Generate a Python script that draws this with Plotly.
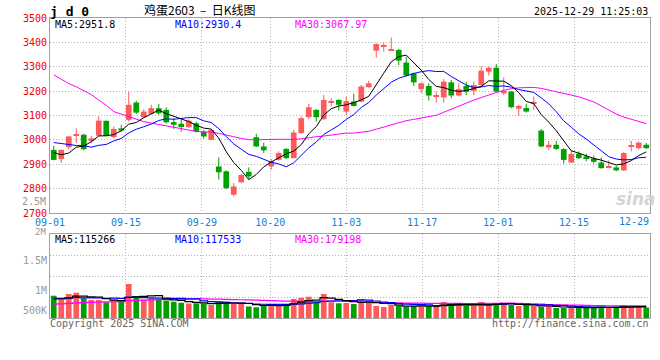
import pandas as pd
import plotly.graph_objects as go

# ---------------- data ----------------
dates = ["09-01","09-02","09-03","09-04","09-05","09-08","09-09","09-10","09-11","09-12",
         "09-15","09-16","09-17","09-18","09-19","09-22","09-23","09-24","09-25","09-26",
         "09-29","09-30","10-09","10-10","10-13","10-14","10-15","10-16","10-17","10-20",
         "10-21","10-22","10-23","10-24","10-27","10-28","10-29","10-30","10-31","11-03",
         "11-04","11-05","11-06","11-07","11-10","11-11","11-12","11-13","11-14","11-17",
         "11-18","11-19","11-20","11-21","11-24","11-25","11-26","11-27","11-28","12-01",
         "12-02","12-03","12-04","12-05","12-08","12-09","12-10","12-11","12-12","12-15",
         "12-16","12-17","12-18","12-19","12-22","12-23","12-24","12-25","12-26","12-29"]

opens = [2959,2921,2970,3017,3021,2998,3017,3078,3011,3047,
         3082,3153,3093,3107,3130,3123,3073,3066,3052,3068,
         3034,3000,2891,2871,2775,2826,2869,3011,2973,2891,
         2918,2963,2925,3028,3093,3123,3085,3154,3164,3116,
         3157,3157,3216,3366,3382,3366,3369,3317,3273,3208,
         3221,3178,3174,3236,3182,3221,3201,3225,3280,3296,
         3191,3198,3128,3131,3150,3038,2969,2980,2962,2907,
         2943,2932,2924,2907,2888,2887,2875,2973,2966,2980]
closes = [2918,2959,3014,3020,2962,3006,3079,3017,3045,3038,
          3144,3112,3116,3130,3109,3072,3062,3053,3079,3034,
          3014,3041,2867,2802,2809,2856,2850,2973,2957,2912,
          2946,2925,3030,3089,3134,3093,3164,3159,3144,3159,
          3139,3219,3232,3393,3386,3371,3325,3264,3236,3232,
          3182,3183,3239,3182,3208,3198,3225,3284,3296,3198,
          3201,3134,3139,3116,3156,2973,2980,2963,2918,2942,
          2925,2924,2910,2884,2892,2875,2946,2977,2989,2966]
highs = [2976,2961,3016,3047,3025,3017,3096,3080,3055,3062,
         3198,3161,3126,3144,3148,3134,3089,3085,3085,3075,
         3041,3045,2928,2875,2823,2860,2887,3025,2989,2921,
         2953,2966,3041,3096,3148,3126,3184,3171,3167,3178,
         3189,3225,3243,3396,3399,3420,3373,3341,3276,3237,
         3232,3198,3250,3246,3232,3239,3239,3303,3300,3311,
         3257,3201,3144,3148,3178,3045,2996,2996,2966,2959,
         2953,2943,2935,2928,2916,2894,2950,2996,2993,2987]
lows = [2916,2905,2962,2987,2957,2987,3015,3015,3007,3034,
        3075,3107,3089,3105,3103,3067,3045,3034,3050,3030,
        3006,2998,2837,2798,2768,2824,2839,2970,2946,2877,
        2915,2922,2925,3025,3085,3075,3082,3139,3120,3101,
        3137,3155,3214,3337,3362,3366,3307,3259,3221,3192,
        3161,3153,3153,3171,3178,3184,3184,3221,3264,3196,
        3184,3130,3098,3112,3123,2970,2959,2959,2902,2905,
        2921,2912,2902,2882,2884,2871,2873,2953,2959,2962]
volumes = [223000,185000,240000,253000,197000,180000,180000,158000,183000,163000,
           340000,210000,183000,207000,180000,175000,163000,153000,145000,147000,
           145000,130000,163000,163000,140000,147000,115000,107000,120000,140000,
           140000,120000,190000,203000,213000,175000,240000,158000,147000,150000,
           140000,187000,168000,120000,110000,130000,120000,113000,120000,120000,
           120000,120000,160000,150000,130000,120000,120000,160000,130000,150000,
           150000,130000,120000,130000,120000,110000,120000,100000,100000,107000,
           105000,105000,105000,108000,105000,105000,130000,115000,115000,105000]

# sessions before 09-01 (not drawn; estimated so the moving averages start where the picture shows)
prior_closes = [3499,3554,3410,3412,3516,3739,3677,3825,3368,3474,
                3442,3356,3310,3289,3222,3242,3203,3289,3184,3104,
                3009,3054,3050,2972,3065,3004,2979,2900,2939]
prior_volumes = [105000,98000,112000,120000,108000,95000,118000,125000,110000,102000,
                 115000,108000,120000,104000,112000,99000,117000,121000,109000,113000,
                 195000,215000,188000,226000,196000,176000,190000,170000,191000]

price_ticks = [2700, 2800, 2900, 3000, 3100, 3200, 3300, 3400, 3500]
date_ticks = ["09-01","09-15","09-29","10-20","11-03","11-17","12-01","12-15","12-29"]
vol_tick_vals = [80000, 277000, 577000]
vol_tick_text = ["500K", "1M", "1.5M"]

title_code = "j d 0"
title_text = "鸡蛋2603 \u00a0–\u00a0 日K线图"
stamp = "2025-12-29 11:25:03"
price_ma_text = ["MA5:2951.8", "MA10:2930.4", "MA30:3067.97"]
vol_ma_text = ["MA5:115266", "MA10:117533", "MA30:179198"]

# ---------------- derived ----------------
n = len(dates)
xs = list(range(n))
np_ = len(prior_closes)
cs = pd.Series(prior_closes + closes)
ma5 = cs.rolling(5).mean().iloc[np_:].tolist()
ma10 = cs.rolling(10).mean().iloc[np_:].tolist()
ma30 = cs.rolling(30).mean().iloc[np_:].tolist()
vs = pd.Series(prior_volumes + volumes)
vma5 = vs.rolling(5).mean().iloc[len(prior_volumes):].tolist()
vma10 = vs.rolling(10).mean().iloc[len(prior_volumes):].tolist()
vma30 = vs.rolling(30).mean().iloc[len(prior_volumes):].tolist()

RED = "#ff5a5a"
GREEN = "#00a000"
up = [c >= o for o, c in zip(opens, closes)]
colors = [RED if u else GREEN for u in up]
MINH = 4
body_base, body_h = [], []
for o, c in zip(opens, closes):
    h = abs(c - o)
    if h < MINH:
        body_base.append((o + c) / 2 - MINH / 2)
        body_h.append(MINH)
    else:
        body_base.append(min(o, c))
        body_h.append(h)

W, H = 660, 360
L, R = 50, 650
MT, MB = 18, 213
VT, VB = 234, 318
MONO = "DejaVu Sans Mono"

fig = go.Figure()

# wicks
for col, flag in ((RED, True), (GREEN, False)):
    wx, wy = [], []
    for i in xs:
        if up[i] == flag:
            wx += [i, i, None]
            wy += [lows[i], highs[i], None]
    fig.add_trace(go.Scatter(x=wx, y=wy, mode="lines", line=dict(color=col, width=1),
                             xaxis="x", yaxis="y", showlegend=False, hoverinfo="skip"))
# bodies
fig.add_trace(go.Bar(x=xs, y=body_h, base=body_base, width=0.76, marker=dict(color=colors, line=dict(width=0)),
                     xaxis="x", yaxis="y", showlegend=False))
# price MAs
for vals, col in ((ma30, "#ff00ff"), (ma10, "#0000ff"), (ma5, "#000000")):
    fig.add_trace(go.Scatter(x=xs, y=vals, mode="lines", line=dict(color=col, width=1),
                             xaxis="x", yaxis="y", showlegend=False))
# volume
fig.add_trace(go.Bar(x=xs, y=volumes, width=0.76, marker=dict(color=colors, line=dict(width=0)),
                     xaxis="x2", yaxis="y2", showlegend=False))
for vals, col in ((vma30, "#ff00ff"), (vma10, "#0000ff"), (vma5, "#000000")):
    fig.add_trace(go.Scatter(x=xs, y=vals, mode="lines", line=dict(color=col, width=1.2, shape="hvh"),
                             xaxis="x2", yaxis="y2", showlegend=False))

# gridline positions: Sina spreads the date grid over n-1 steps
tick_pos = [dates.index(d) * n / (n - 1) - 0.5 for d in date_ticks]
tick_txt = date_ticks[:-1] + [""]

GRID = dict(showgrid=True, gridcolor="#b4b4b4", gridwidth=1, griddash="1px,2px")
BORDER = dict(showline=True, mirror=True, linecolor="#a0a0a0", linewidth=1)

fig.update_layout(
    width=W, height=H, margin=dict(l=0, r=0, t=0, b=0, autoexpand=False),
    paper_bgcolor="white", plot_bgcolor="white", barmode="overlay", hovermode=False,
    xaxis=dict(domain=[L / W, R / W], range=[-0.5, n - 0.5], anchor="y", automargin=False,
               tickmode="array", tickvals=tick_pos, ticktext=tick_txt, ticks="",
               tickfont=dict(family=MONO, size=10, color="#1780d0"), zeroline=False, **GRID, **BORDER),
    yaxis=dict(domain=[1 - MB / H, 1 - MT / H], range=[price_ticks[0], price_ticks[-1]], anchor="x",
               automargin=False, tickmode="array", tickvals=price_ticks, ticks="",
               tickfont=dict(family=MONO, size=10, color="#ee0000"), zeroline=False, **GRID, **BORDER),
    xaxis2=dict(domain=[L / W, R / W], range=[-0.5, n - 0.5], anchor="y2", matches="x", automargin=False,
                tickmode="array", tickvals=tick_pos, showticklabels=False, ticks="",
                zeroline=False, **GRID, **BORDER),
    yaxis2=dict(domain=[1 - VB / H, 1 - VT / H], range=[0, 840000], anchor="x2", automargin=False,
                tickmode="array", tickvals=vol_tick_vals, ticktext=vol_tick_text, ticks="",
                tickfont=dict(family=MONO, size=10, color="#9a9a9a"), showgrid=False, zeroline=False,
                minor=dict(tickmode="array", tickvals=[210000, 420000, 630000], showgrid=True,
                           gridcolor="#b4b4b4", gridwidth=1, griddash="1px,2px", ticks=""),
                **BORDER),
)

def ann(text, px, py, anchor="left", color="black", size=10, family=MONO, bold=False, italic=False):
    t = f"<b>{text}</b>" if bold else text
    if italic:
        t = f"<i>{t}</i>"
    fig.add_annotation(text=t, x=px / W, y=1 - py / H, xref="paper", yref="paper",
                       xanchor=anchor, yanchor="middle", showarrow=False,
                       font=dict(family=family, size=size, color=color), borderpad=0)

ann(title_code, 49, 11, size=13, bold=True)
ann(title_text, 200, 9.5, anchor="center", size=12, family="Noto Sans CJK SC")
ann(stamp, 649, 11, anchor="right")
for txt, xp, col in zip(price_ma_text, (54, 174, 294), ("#000000", "#0000ff", "#ff00ff")):
    ann(txt, xp, 24.5, color=col)
for txt, xp, col in zip(vol_ma_text, (54, 174, 294), ("#000000", "#0000ff", "#ff00ff")):
    ann(txt, xp, 239, color=col)
ann("2.5M", 47, 201, anchor="right", color="#9a9a9a")
ann("2M", 47, 232, anchor="right", color="#9a9a9a", size=9)
ann(date_ticks[-1], 650, 221, anchor="right", color="#1780d0")
ann("Copyright 2025 SINA.COM", 49, 323.5, color="#666666")
ann("http://finance.sina.com.cn", 650, 323.5, anchor="right", color="#666666")
ann("sina", 636, 199, anchor="center", color="#d4d4d4", size=17, family="DejaVu Sans", bold=True, italic=True)

fig.write_html("out.html")
